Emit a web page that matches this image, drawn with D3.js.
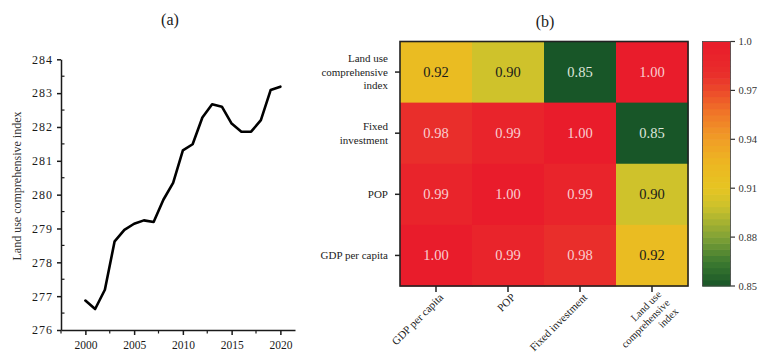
<!DOCTYPE html>
<html><head><meta charset="utf-8">
<script src="https://cdn.jsdelivr.net/npm/d3@7"></script>
<style>
body{margin:0;background:#fff;}
svg{display:block;font-family:"Liberation Serif","Times New Roman",serif;}
svg text{font-family:"Liberation Serif","Times New Roman",serif;}
</style></head>
<body><svg id="c" width="760" height="354"></svg>
<script>
// ---- data ----
const years = [2000,2001,2002,2003,2004,2005,2006,2007,2008,2009,2010,2011,2012,2013,2014,2015,2016,2017,2018,2019,2020];
const landIndex = [276.87,276.62,277.19,278.62,278.96,279.14,279.24,279.19,279.85,280.35,281.31,281.49,282.28,282.67,282.60,282.10,281.86,281.86,282.20,283.09,283.19];
const yTicks = [276,277,278,279,280,281,282,283,284];
const xTicks = [2000,2005,2010,2015,2020];
const rowLabels = [["Land use","comprehensive","index"],["Fixed","investment"],["POP"],["GDP per capita"]];
const colLabels = [["GDP per capita"],["POP"],["Fixed investment"],["Land use","comprehensive","index"]];
const corr = [
  [0.92,0.90,0.85,1.00],
  [0.98,0.99,1.00,0.85],
  [0.99,1.00,0.99,0.90],
  [1.00,0.99,0.98,0.92]
];
const cbTicks = [1.0,0.97,0.94,0.91,0.88,0.85];
const cbTickLabels = ["1.0","0.97","0.94","0.91","0.88","0.85"];
const colorStops = [0.85,0.865,0.88,0.895,0.90,0.91,0.925,0.94,0.955,0.97,0.98,0.99,1.0];
const colorRange = ["#185628","#3d7a30","#80a236","#bdbb2e","#cfc22b","#e6c522","#ecb722","#f09e26","#f07a28","#ec4a2a","#e92e2b","#e9242b","#e91c2b"];

const svg = d3.select("#c");
const ink = "#1a1a1a";

// ---- (a) line chart ----
const x = d3.scaleLinear().domain([1997.5,2021.5]).range([61,295]);
const y = d3.scaleLinear().domain([276,284]).range([330,59.3]);
const ga = svg.append("g");
ga.append("text").attr("x",170).attr("y",25).attr("text-anchor","middle").attr("font-size",16).attr("fill",ink).text("(a)");

// minor ticks
ga.append("g").selectAll("line").data(d3.range(276.5,284,1)).join("line")
  .attr("x1",x(1997.5)).attr("x2",x(1997.5)+3.5).attr("y1",d=>y(d)).attr("y2",d=>y(d)).attr("stroke",ink).attr("stroke-width",1.2);
ga.append("g").selectAll("line").data([1997.5,2002.5,2007.5,2012.5,2017.5]).join("line")
  .attr("x1",d=>x(d)).attr("x2",d=>x(d)).attr("y1",y(276)).attr("y2",y(276)+3.5).attr("stroke",ink).attr("stroke-width",1.2);

const yAx = ga.append("g").attr("transform",`translate(${x(1997.5)},0)`)
  .call(d3.axisLeft(y).tickValues(yTicks).tickSize(4).tickSizeOuter(0).tickPadding(4).tickFormat(d3.format("d")));
yAx.selectAll("text").attr("font-size",12).attr("letter-spacing","1px").attr("fill",ink).attr("font-family","Liberation Serif");
const xAx = ga.append("g").attr("transform",`translate(0,${y(276)})`)
  .call(d3.axisBottom(x).tickValues(xTicks).tickSize(5).tickSizeOuter(0).tickPadding(6).tickFormat(d3.format("d")));
xAx.selectAll("text").attr("font-size",11.5).attr("fill",ink).attr("font-family","Liberation Serif");
[yAx,xAx].forEach(a=>{a.attr("font-family",null);a.select(".domain").attr("stroke",ink).attr("stroke-width",1.5);a.selectAll(".tick line").attr("stroke",ink).attr("stroke-width",1.5);});

ga.append("text").attr("transform","translate(21,186) rotate(-90)").attr("text-anchor","middle")
  .attr("font-size",12).attr("fill","#333").text("Land use comprehensive index");

ga.append("path").datum(years.map((yr,i)=>[yr,landIndex[i]]))
  .attr("d",d3.line().x(d=>x(d[0])).y(d=>y(d[1])))
  .attr("fill","none").attr("stroke","#000").attr("stroke-width",2.6).attr("stroke-linejoin","round").attr("stroke-linecap","round");

// ---- (b) heatmap ----
const color = d3.scaleLinear().domain(colorStops).range(colorRange);
const hx = d3.scaleBand().domain(d3.range(4)).range([400,688]);
const hy = d3.scaleBand().domain(d3.range(4)).range([41.5,286]);
const gb = svg.append("g");
gb.append("text").attr("x",545).attr("y",27).attr("text-anchor","middle").attr("font-size",16).attr("fill",ink).text("(b)");

const cells = [];
corr.forEach((row,r)=>row.forEach((v,c)=>cells.push({r,c,v})));
gb.append("g").selectAll("rect").data(cells).join("rect")
  .attr("x",d=>hx(d.c)).attr("y",d=>hy(d.r)).attr("width",hx.bandwidth()+0.5).attr("height",hy.bandwidth()+0.5)
  .attr("fill",d=>color(d.v));
gb.append("g").selectAll("text").data(cells).join("text")
  .attr("x",d=>hx(d.c)+hx.bandwidth()/2).attr("y",d=>hy(d.r)+hy.bandwidth()/2+5)
  .attr("text-anchor","middle").attr("font-size",14.5)
  .attr("fill",d=>d.v>=0.95?"#f9cdd0":(d.v<0.87?"#dfe6dc":"#1a1a1a"))
  .text(d=>d.v.toFixed(2));
gb.append("rect").attr("x",400).attr("y",41.5).attr("width",288).attr("height",244.5)
  .attr("fill","none").attr("stroke","#222").attr("stroke-width",1.6);

// row labels + ticks
const rows = gb.append("g").selectAll("g").data(rowLabels).join("g")
  .attr("transform",(d,i)=>`translate(400,${hy(i)+hy.bandwidth()/2})`);
rows.append("line").attr("x1",-5).attr("x2",0).attr("stroke","#222").attr("stroke-width",1.5);
rows.append("text").attr("text-anchor","end").attr("font-size",11).attr("fill","#222")
  .each(function(lines){
    const t=d3.select(this);
    const lh=13.5, off=-(lines.length-1)/2*lh+3.8;
    lines.forEach((s,k)=>t.append("tspan").attr("x",-12).attr("y",off+k*lh).text(s));
  });

// column labels + ticks
const cols = gb.append("g").selectAll("g").data(colLabels).join("g")
  .attr("transform",(d,i)=>`translate(${hx(i)+hx.bandwidth()/2},286)`);
cols.append("line").attr("y1",0).attr("y2",6).attr("stroke","#222").attr("stroke-width",1.5);
cols.append("text").attr("text-anchor","end").attr("fill","#222")
  .attr("font-size",d=>d.length>1?10.5:11)
  .attr("transform",d=>d.length>1?"translate(10,9) rotate(-45)":"translate(8,12) rotate(-45)")
  .each(function(lines){
    const t=d3.select(this);
    lines.forEach((s,k)=>t.append("tspan").attr("x",0).attr("y",k*12).text(s));
  });

// ---- colorbar ----
const cbY = d3.scaleLinear().domain([0.85,1.0]).range([286,41.5]);
const nb = 40;
const bands = d3.range(nb).map(i=>0.85+(i+0.5)*0.15/nb);
gb.append("g").selectAll("rect").data(bands).join("rect")
  .attr("x",702.5).attr("width",28).attr("y",d=>cbY(d+0.075/nb)).attr("height",cbY(0.85)-cbY(0.85+0.15/nb)+0.6)
  .attr("fill",d=>color(d));
gb.append("rect").attr("x",702.5).attr("y",41.5).attr("width",28).attr("height",244.5)
  .attr("fill","none").attr("stroke","#444").attr("stroke-width",0.8);
const cbt = gb.append("g").selectAll("g").data(cbTicks).join("g").attr("transform",d=>`translate(730.5,${cbY(d)})`);
cbt.append("line").attr("x1",0).attr("x2",4.5).attr("stroke","#333").attr("stroke-width",1.2);
cbt.append("text").attr("x",8).attr("y",3.5).attr("font-size",10.5).attr("fill","#333").text((d,i)=>cbTickLabels[i]);
</script></body></html>
